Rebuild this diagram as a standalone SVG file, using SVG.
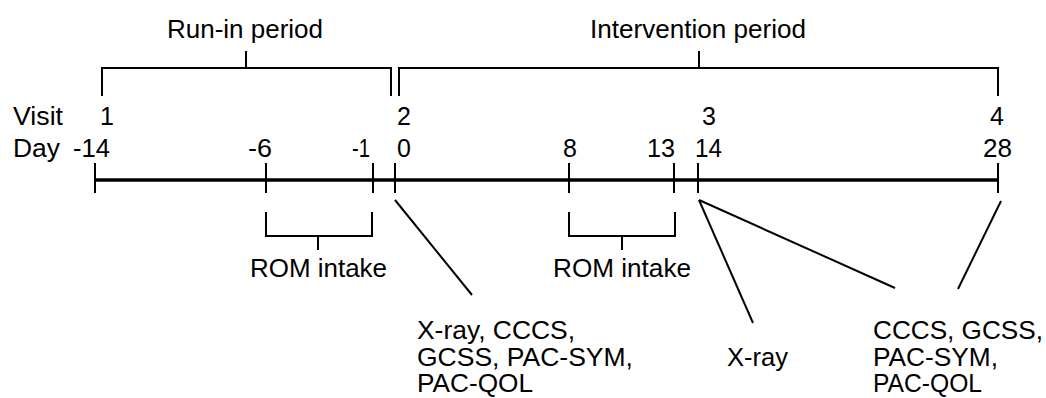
<svg xmlns="http://www.w3.org/2000/svg" width="1046" height="398" viewBox="0 0 1046 398">
<style>
text{font-family:"Liberation Sans",Arial,sans-serif;font-size:25px;fill:#000}
.ln{stroke:#000;stroke-width:2;fill:none}
.axis{stroke:#000;stroke-width:3.5;fill:none}
</style>
<rect width="1046" height="398" fill="#fff"/>
<g id="connectors">
<path id="runin-bracket" class="ln" d="M102,96 V68 H391 V96 M246,68 V51"/>
<path id="intervention-bracket" class="ln" d="M399,96 V68 H998 V96 M699,68 V51"/>
<line id="timeline" class="axis" x1="94" y1="180" x2="999" y2="180"/>
<path id="ticks" class="ln" d="M95,163 V193 M266,163 V193 M373,163 V193 M395,163 V193 M569,163 V193 M674,163 V193 M698,163 V193 M998,163 V193"/>
<path id="rom1-bracket" class="ln" d="M266,212 V236 H372 V212 M318,236 V250"/>
<path id="rom2-bracket" class="ln" d="M569,212 V236 H675 V212 M622,236 V250"/>
<line class="ln" x1="395" y1="200" x2="472" y2="295"/>
<line class="ln" x1="699" y1="200" x2="753" y2="323"/>
<line class="ln" x1="699" y1="200" x2="895" y2="288"/>
<line class="ln" x1="1001" y1="201" x2="958" y2="289"/>
</g>
<g id="period-labels">
<text x="167" y="38" textLength="156" lengthAdjust="spacingAndGlyphs">Run-in period</text>
<text x="590" y="38" textLength="216" lengthAdjust="spacingAndGlyphs">Intervention period</text>
</g>
<g id="visit-row">
<text x="13" y="125" textLength="50" lengthAdjust="spacingAndGlyphs">Visit</text>
<text x="100" y="125">1</text>
<text x="397" y="125">2</text>
<text x="702" y="125">3</text>
<text x="990" y="125">4</text>
</g>
<g id="day-row">
<text x="13" y="157" textLength="47" lengthAdjust="spacingAndGlyphs">Day</text>
<text x="73" y="157" textLength="37" lengthAdjust="spacingAndGlyphs">-14</text>
<text x="248" y="157" textLength="24" lengthAdjust="spacingAndGlyphs">-6</text>
<text x="352" y="157" textLength="18" lengthAdjust="spacingAndGlyphs">-1</text>
<text x="397" y="157">0</text>
<text x="563" y="157">8</text>
<text x="647" y="157" textLength="28" lengthAdjust="spacingAndGlyphs">13</text>
<text x="695" y="157" textLength="27" lengthAdjust="spacingAndGlyphs">14</text>
<text x="983" y="157" textLength="29" lengthAdjust="spacingAndGlyphs">28</text>
</g>
<g id="rom1">
<text x="250" y="277" textLength="137" lengthAdjust="spacingAndGlyphs">ROM intake</text>
</g>
<g id="rom2">
<text x="553" y="277" textLength="138" lengthAdjust="spacingAndGlyphs">ROM intake</text>
</g>
<g id="visit2-assessments">
<text x="417" y="339" textLength="158" lengthAdjust="spacingAndGlyphs">X-ray, CCCS,</text>
<text x="417" y="365.5" textLength="216" lengthAdjust="spacingAndGlyphs">GCSS, PAC-SYM,</text>
<text x="417" y="392" textLength="116" lengthAdjust="spacingAndGlyphs">PAC-QOL</text>
</g>
<g id="visit3-xray">
<text x="727" y="366" textLength="61" lengthAdjust="spacingAndGlyphs">X-ray</text>
</g>
<g id="visit34-assessments">
<text x="873" y="339" textLength="170" lengthAdjust="spacingAndGlyphs">CCCS, GCSS,</text>
<text x="873" y="365.5" textLength="125" lengthAdjust="spacingAndGlyphs">PAC-SYM,</text>
<text x="873" y="392" textLength="109" lengthAdjust="spacingAndGlyphs">PAC-QOL</text>
</g>
</svg>
